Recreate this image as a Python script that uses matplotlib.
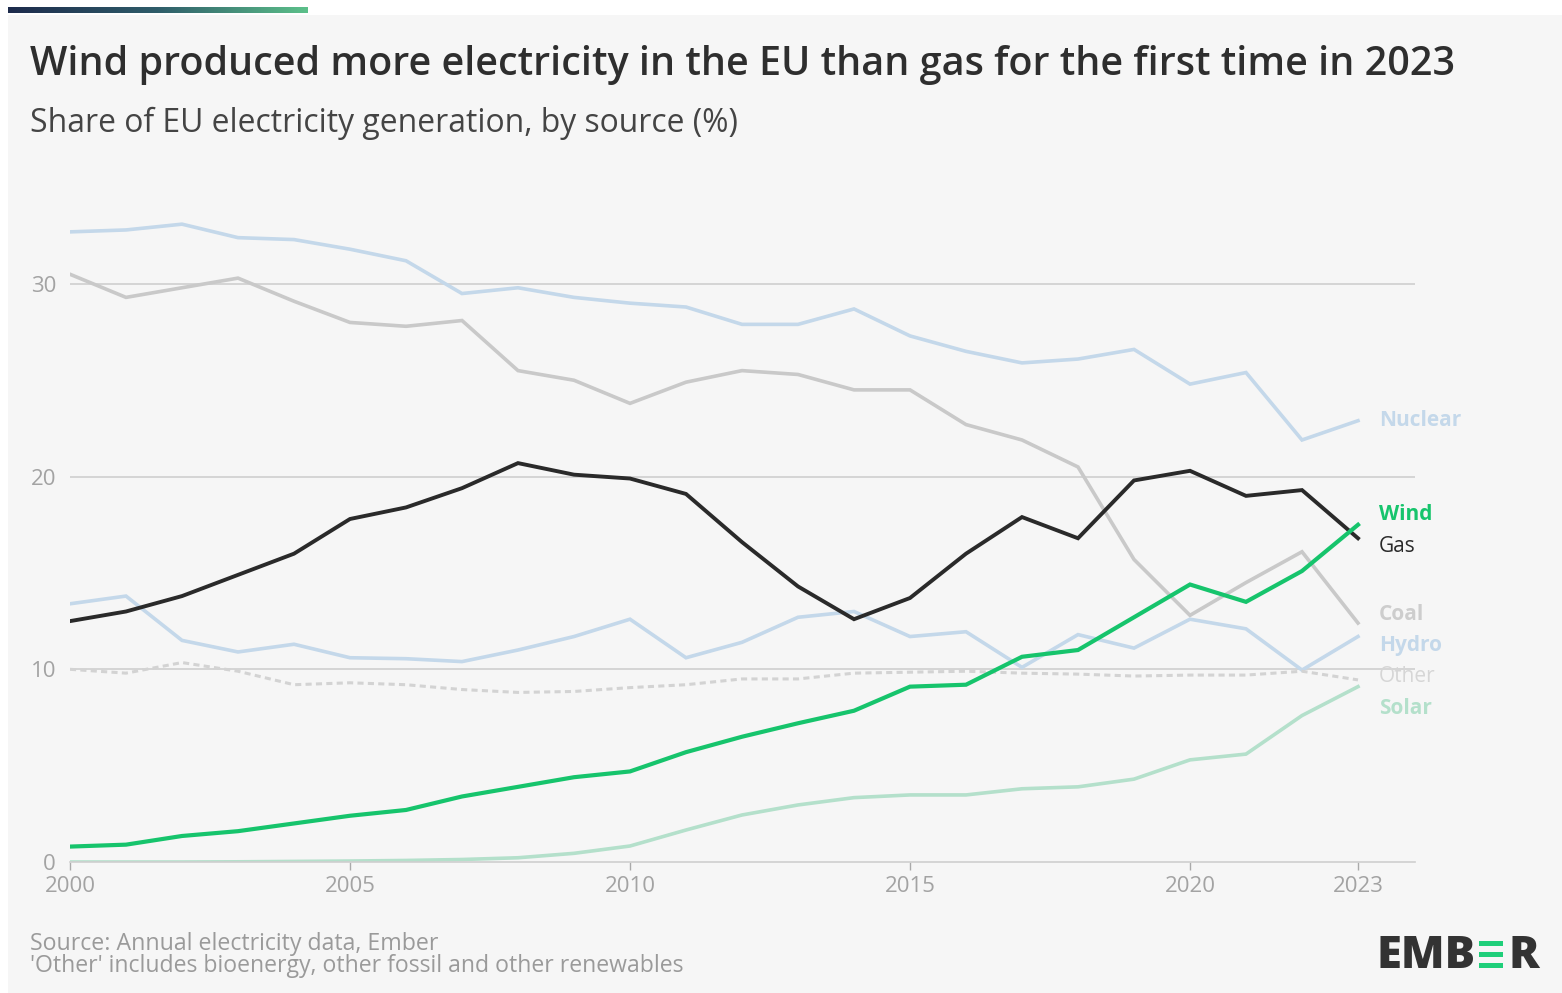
import matplotlib
matplotlib.use("Agg")
import matplotlib.pyplot as plt
import numpy as np
from matplotlib.patches import Rectangle
from matplotlib.colors import LinearSegmentedColormap

years = list(range(2000, 2024))
nuclear = [32.7, 32.8, 33.1, 32.4, 32.3, 31.8, 31.2, 29.5, 29.8, 29.3, 29.0, 28.8,
           27.9, 27.9, 28.7, 27.3, 26.5, 25.9, 26.1, 26.6, 24.8, 25.4, 21.9, 22.9]
coal = [30.5, 29.3, 29.8, 30.3, 29.1, 28.0, 27.8, 28.1, 25.5, 25.0, 23.8, 24.9,
        25.5, 25.3, 24.5, 24.5, 22.7, 21.9, 20.5, 15.7, 12.8, 14.5, 16.1, 12.4]
gas = [12.5, 13.0, 13.8, 14.9, 16.0, 17.8, 18.4, 19.4, 20.7, 20.1, 19.9, 19.1,
       16.6, 14.3, 12.6, 13.7, 16.0, 17.9, 16.8, 19.8, 20.3, 19.0, 19.3, 16.8]
wind = [0.8, 0.9, 1.35, 1.6, 2.0, 2.4, 2.7, 3.4, 3.9, 4.4, 4.7, 5.7,
        6.5, 7.2, 7.85, 9.1, 9.2, 10.65, 11.0, 12.7, 14.4, 13.5, 15.1, 17.5]
hydro = [13.4, 13.8, 11.5, 10.9, 11.3, 10.6, 10.55, 10.4, 11.0, 11.7, 12.6, 10.6,
         11.4, 12.7, 13.0, 11.7, 11.95, 10.1, 11.8, 11.1, 12.6, 12.1, 9.96, 11.7]
other = [10.0, 9.8, 10.35, 9.9, 9.2, 9.3, 9.2, 8.95, 8.8, 8.85, 9.05, 9.2,
         9.5, 9.5, 9.8, 9.85, 9.9, 9.8, 9.75, 9.65, 9.7, 9.7, 9.9, 9.45]
solar = [0.0, 0.0, 0.0, 0.01, 0.03, 0.05, 0.08, 0.13, 0.22, 0.45, 0.83, 1.66,
         2.44, 2.96, 3.34, 3.48, 3.48, 3.8, 3.9, 4.3, 5.3, 5.6, 7.6, 9.1]

x_ticks = [2000, 2005, 2010, 2015, 2020, 2023]
y_ticks = [0, 10, 20, 30]

title = "Wind produced more electricity in the EU than gas for the first time in 2023"
subtitle = "Share of EU electricity generation, by source (%)"
source1 = "Source: Annual electricity data, Ember"
source2 = "'Other' includes bioenergy, other fossil and other renewables"

W, H = 1562, 993
fig = plt.figure(figsize=(W / 100, H / 100), dpi=100, facecolor="white")

def fx(px):
    return px / W

def fy(py):
    return 1 - py / H

# light panel background
fig.patches.append(Rectangle((fx(8), 0), 1 - fx(8), fy(15), transform=fig.transFigure,
                             facecolor="#f6f6f6", edgecolor="none", zorder=-10))

# gradient bar at top
gax = fig.add_axes([fx(8), fy(13), fx(308) - fx(8), fy(7) - fy(13)])
grad = np.linspace(0, 1, 256).reshape(1, -1)
cmap = LinearSegmentedColormap.from_list("g", ["#1d2b4c", "#2f5d6a", "#5cc08a"])
gax.imshow(grad, aspect="auto", cmap=cmap)
gax.axis("off")

FONT = "Open Sans"

# main axes
ax_left, ax_right = 70, 1415
ax_bottom, ax_top = 862, 862 - 35 * 19.27
ax = fig.add_axes([fx(ax_left), fy(ax_bottom), fx(ax_right) - fx(ax_left), fy(ax_top) - fy(ax_bottom)])
ax.set_facecolor("none")
ax.set_xlim(2000, 2000 + (ax_right - ax_left) / 56.0)
ax.set_ylim(0, 35)

for s in ["top", "right", "left"]:
    ax.spines[s].set_visible(False)
ax.spines["bottom"].set_color("#cfcfcf")
ax.spines["bottom"].set_linewidth(1.2)

ax.set_yticks(y_ticks)
ax.set_yticklabels([str(v) for v in y_ticks])
ax.set_xticks(x_ticks)
ax.set_xticklabels([str(v) for v in x_ticks])
ax.tick_params(axis="y", length=0, pad=10, labelsize=16, labelcolor="#a3a3a3")
ax.tick_params(axis="x", length=6, width=1, color="#aaaaaa", pad=4, labelsize=16, labelcolor="#a3a3a3")
for lab in ax.get_xticklabels() + ax.get_yticklabels():
    lab.set_fontfamily(FONT)
for v in y_ticks[1:]:
    ax.axhline(v, color="#cccccc", lw=1.1, zorder=0)

c_nuc = "#c4d8ea"
c_coal = "#c9c9c9"
c_gas = "#2a2a2a"
c_wind = "#16c46c"
c_hydro = "#c4d8ea"
c_other = "#d3d3d3"
c_solar = "#b4e0cb"

ax.plot(years, nuclear, color=c_nuc, lw=2.6, zorder=2, solid_joinstyle="miter")
ax.plot(years, coal, color=c_coal, lw=2.6, zorder=2, solid_joinstyle="miter")
ax.plot(years, hydro, color=c_hydro, lw=2.6, zorder=2, solid_joinstyle="miter")
ax.plot(years, other, color=c_other, lw=2.2, ls=(0, (2.0, 1.4)), zorder=2)
ax.plot(years, solar, color=c_solar, lw=2.6, zorder=2, solid_joinstyle="miter")
ax.plot(years, gas, color=c_gas, lw=2.8, zorder=3, solid_joinstyle="miter")
ax.plot(years, wind, color=c_wind, lw=3.0, zorder=4, solid_joinstyle="miter")

# end labels
labels = [("Nuclear", 420, c_nuc, "bold"),
          ("Wind", 515, c_wind, "bold"),
          ("Gas", 547, c_gas, "normal"),
          ("Coal", 615, "#cdcdcd", "bold"),
          ("Hydro", 645, c_hydro, "bold"),
          ("Other", 677, "#d6d6d6", "normal"),
          ("Solar", 708, c_solar, "bold")]
for name, py, col, wt in labels:
    fig.text(fx(1379), fy(py), name, color=col, fontsize=15, fontweight=wt,
             family=FONT, ha="left", va="center")

# title and subtitle
t = fig.text(fx(30), fy(75), title, fontsize=26, fontweight="semibold", color="#2e2e2e",
             family=FONT, ha="left", va="baseline")
st = fig.text(fx(30), fy(132), subtitle, fontsize=20, color="#444444",
              family=FONT, ha="left", va="baseline")

# footer
s1 = fig.text(fx(30), fy(950), source1, fontsize=14, color="#9a9a9a", family=FONT, ha="left", va="baseline")
s2 = fig.text(fx(30), fy(972), source2, fontsize=14, color="#9a9a9a", family=FONT, ha="left", va="baseline")

# EMBER logo
l1 = fig.text(fx(1376), fy(968), "EMB", fontsize=27, fontweight="heavy", color="#333333",
              family=FONT, ha="left", va="baseline")
l2 = fig.text(fx(1509), fy(968), "R", fontsize=27, fontweight="heavy", color="#333333",
              family=FONT, ha="left", va="baseline")
for y0 in [941, 952, 963]:
    fig.patches.append(Rectangle((fx(1479), fy(y0 + 5)), fx(1503) - fx(1479), fy(y0) - fy(y0 + 5),
                                 transform=fig.transFigure, facecolor="#1fcf7a", edgecolor="none"))

# fit text widths
fig.canvas.draw()
r = fig.canvas.get_renderer()
for txt, target in [(t, 1422), (st, 707), (s1, 410), (s2, 655), (l1, 99)]:
    w = txt.get_window_extent(r).width
    txt.set_fontsize(txt.get_fontsize() * target / w)
l2.set_fontsize(l1.get_fontsize())

fig.savefig("out.png", dpi=100, facecolor=fig.get_facecolor())
